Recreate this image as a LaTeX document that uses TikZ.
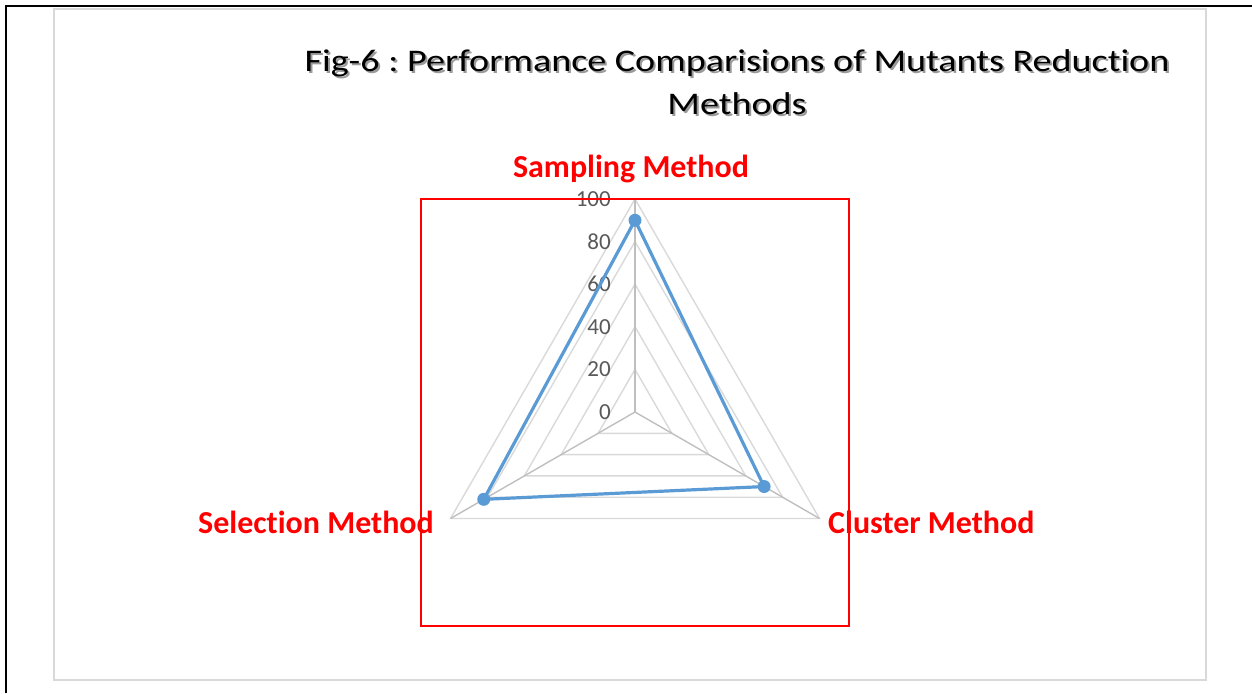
\documentclass[tikz,border=0pt]{standalone}
\usepackage{fontspec}
\setmainfont{Carlito}[Ligatures={NoCommon}]
\frenchspacing
\definecolor{framegray}{HTML}{D9D9D9}
\definecolor{ringgray}{HTML}{D9D9D9}
\definecolor{spokegray}{HTML}{BFBFBF}
\definecolor{tickgray}{HTML}{595959}
\definecolor{seriesblue}{HTML}{5B9BD5}
\definecolor{shadowgray}{HTML}{9A9A9A}
\newcommand{\titlelineone}{\scalebox{1.27}[1.05]{Fig-6 : Performance Comparisions of Mutants Reduction}}
\newcommand{\titlelinetwo}{\scalebox{1.27}[1.05]{Methods}}
\begin{document}
\begin{tikzpicture}[x=1pt,y=-1pt,
  ring/.style={draw=ringgray,line width=1.4pt},
  spoke/.style={draw=spokegray,line width=1.4pt},
  series/.style={draw=seriesblue,line width=3.2pt,line join=round},
  marker/.style={fill=seriesblue,draw=none},
  ticklab/.style={text=tickgray,font=\fontsize{23}{27}\selectfont,inner sep=0pt,anchor=east},
  catlab/.style={text=red,font=\bfseries\fontsize{32}{38}\selectfont,inner sep=0pt},
  titletext/.style={font=\fontsize{30}{43}\selectfont,align=center,inner sep=0pt}]
\useasboundingbox (0,0) rectangle (1252,693);
% outer black frame
\draw[line width=2pt] (6,693) -- (6,6.5) -- (1252,6.5);
% chart area frame
\draw[draw=framegray,line width=2pt] (54,9) rectangle (1206,680);
% title with shadow
\node[titletext,text=shadowgray] (titleshadow) at (739,84) {\titlelineone\\\titlelinetwo};
\node[titletext] (title) at (737,82) {\titlelineone\\\titlelinetwo};
% radar grid
\coordinate (c) at (635,412);
\begin{scope}[shift={(c)}]
  \foreach \r in {0.2,0.4,0.6,0.8,1.0}
    \draw[ring] (270:{\r*213}) -- (30:{\r*213}) -- (150:{\r*213}) -- cycle;
  \coordinate (vS) at (270:213);
  \coordinate (vC) at (30:213);
  \coordinate (vL) at (150:213);
  \coordinate (pS) at (270:{0.90*213});
  \coordinate (pC) at (30:{0.70*213});
  \coordinate (pL) at (150:{0.82*213});
\end{scope}
\draw[spoke] (c) -- (vS);
\draw[spoke] (c) -- (vC);
\draw[spoke] (c) -- (vL);
% tick labels
\foreach \v in {0,20,40,60,80,100}
  \node[ticklab] (t\v) at (611,{412-\v*2.13}) {\v};
% data series
\draw[series] (pS) -- (pC) -- (pL) -- cycle;
\foreach \p in {pS,pC,pL}
  \fill[marker] (\p) circle (6.5pt);
% category labels
\node[catlab] (sampling) at (631,169) {Sampling Method};
\node[catlab,anchor=east] (selection) at (434,522) {Selection Method};
\node[catlab,anchor=west] (cluster) at (828,522) {Cluster Method};
% red highlight rectangle
\draw[red,line width=1.3pt] (421,199) rectangle (849,626);
\end{tikzpicture}
\end{document}
